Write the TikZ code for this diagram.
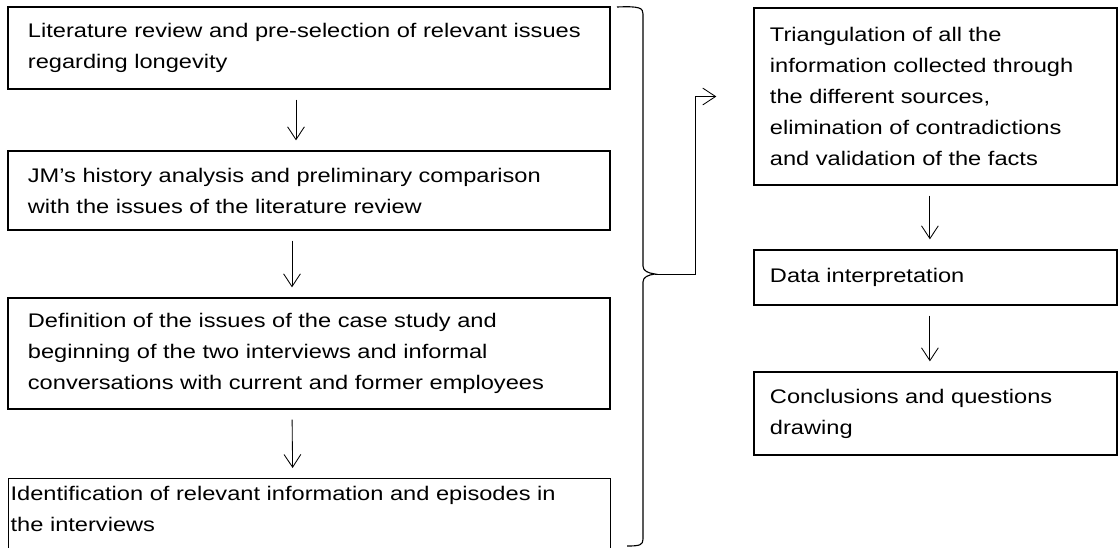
\documentclass[tikz,border=0pt]{standalone}
\usepackage{fontspec}
\setmainfont{Liberation Sans}[FakeStretch=1.2]
\usetikzlibrary{arrows.meta}

\begin{document}
\begin{tikzpicture}[x=0.025cm,y=-0.025cm,
	stage/.style={draw,line width=0.9pt,align=left,inner xsep=0.5cm,
		font=\fontsize{14}{22}\selectfont},
	flow/.style={-{Straight Barb[length=3.2mm,width=4.2mm]},line width=0.6pt,
		shorten <=0.25cm,shorten >=0.25cm}]
		\useasboundingbox (0,0) rectangle (1118,547);
		\node[stage,text width=14.05cm,minimum height=2.05cm] (lit) at (309,48) {Literature review and pre-selection of relevant issues\\regarding longevity};
		\node[stage,text width=14.05cm,minimum height=1.975cm] (hist) at (309,190.5) {JM’s history analysis and preliminary comparison\\with the issues of the literature review};
		\node[stage,text width=14.05cm,minimum height=2.775cm] (defi) at (309,353.5) {Definition of the issues of the case study and\\beginning of the two interviews and informal\\conversations with current and former employees};
		\node[stage,anchor=north west,text width=14.95cm,inner xsep=0.05cm,inner ysep=0.2cm,text depth=1cm] (ident) at (8,478) {Identification of relevant information and episodes in\\the interviews};
		\node[stage,text width=8.275cm,inner xsep=0.4cm,minimum height=4.425cm] (tri) at (935.5,96.5) {Triangulation of all the\\information collected through\\the different sources,\\elimination of contradictions\\and validation of the facts};
		\node[stage,text width=8.275cm,inner xsep=0.4cm,minimum height=1.375cm] (interp) at (935.5,277.5) {Data interpretation};
		\node[stage,text width=8.275cm,inner xsep=0.4cm,minimum height=2.075cm] (concl) at (935.5,413.5) {Conclusions and questions\\drawing};
		\draw[flow] ([xshift=-0.325cm]lit.south) -- ([xshift=-0.325cm]hist.north);
		\draw[flow] ([xshift=-0.425cm]hist.south) -- ([xshift=-0.425cm]defi.north);
		\draw[flow] ([xshift=-0.425cm]defi.south) -- ([xshift=-0.425cm]ident.north);
		\draw[flow] ([xshift=-0.14cm]tri.south) -- ([xshift=-0.14cm]interp.north);
		\draw[flow] ([xshift=-0.14cm]interp.south) -- ([xshift=-0.14cm]concl.north);
		\coordinate (tip) at (655,274);
		\draw[line width=0.8pt] (617,7) .. controls (640,6) and (643,8) .. (643,14) -- (643,266)
			.. controls (643,271) and (648,273) .. (tip)
			.. controls (648,275) and (643,277) .. (643,282) -- (643,539)
			.. controls (643,545) and (640,546) .. (627,546);
		\draw[flow,shorten <=0pt,shorten >=0.925cm] (tip) -- ++(40,0) |- (tri.west);
	\end{tikzpicture}
\end{document}
